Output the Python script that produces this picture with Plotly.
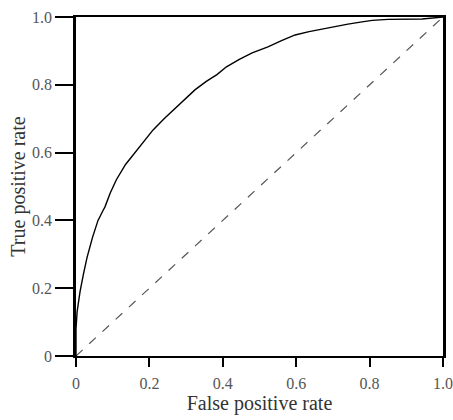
import plotly.graph_objects as go

fpr = [0.0, 0.0, 0.003, 0.006, 0.011, 0.02, 0.03, 0.045, 0.06, 0.074, 0.079, 0.093, 0.11,
       0.135, 0.16, 0.185, 0.21, 0.24, 0.265, 0.295, 0.324, 0.355, 0.384, 0.41, 0.445,
       0.48, 0.523, 0.56, 0.597, 0.635, 0.67, 0.705, 0.741, 0.775, 0.807, 0.85, 0.943, 1.0]
tpr = [0.0, 0.08, 0.13, 0.16, 0.19, 0.24, 0.29, 0.35, 0.40, 0.43, 0.44, 0.48, 0.52,
       0.565, 0.60, 0.635, 0.667, 0.70, 0.726, 0.757, 0.785, 0.81, 0.83, 0.853, 0.875,
       0.894, 0.912, 0.93, 0.947, 0.957, 0.965, 0.972, 0.979, 0.985, 0.99, 0.993, 0.994, 1.0]
diag = [0.0, 1.0]
tick_vals = [0, 0.2, 0.4, 0.6, 0.8, 1.0]
tick_text = ["0", "0.2", "0.4", "0.6", "0.8", "1.0"]

fig = go.Figure()
fig.add_trace(go.Scatter(x=diag, y=diag, mode="lines",
                         line=dict(color="#555555", width=1.2, dash="dash"),
                         showlegend=False, hoverinfo="skip"))
fig.add_trace(go.Scatter(x=fpr, y=tpr, mode="lines",
                         line=dict(color="black", width=1.4),
                         showlegend=False))

family = "Liberation Serif, Times New Roman, serif"
tickfont = dict(family=family, size=16, color="#555555")
titlefont = dict(family=family, size=20, color="#333333")

fig.update_layout(
    width=453, height=420,
    margin=dict(l=76, r=10, t=17, b=64),
    paper_bgcolor="white", plot_bgcolor="white",
    font=tickfont,
    xaxis=dict(range=[0, 1], tickvals=tick_vals, ticktext=tick_text, automargin=False,
               showgrid=False, zeroline=False, showline=True, linecolor="black",
               linewidth=2, mirror=True, ticks="outside", ticklen=9, tickwidth=1.5,
               tickcolor="black", tickfont=tickfont, ticklabelstandoff=3,
               title=dict(text="False positive rate", standoff=4, font=titlefont)),
    yaxis=dict(range=[0, 1], tickvals=tick_vals, ticktext=tick_text, automargin=False,
               showgrid=False, zeroline=False, showline=True, linecolor="black",
               linewidth=2.5, mirror=True, ticks="outside", ticklen=18, tickwidth=1.5,
               tickcolor="black", tickfont=tickfont,
               title=dict(text="True positive rate", standoff=2, font=titlefont)),
)

fig.write_html("out.html", config={"displayModeBar": False},
               post_script="document.body.style.margin='0';document.body.style.padding='0';")
